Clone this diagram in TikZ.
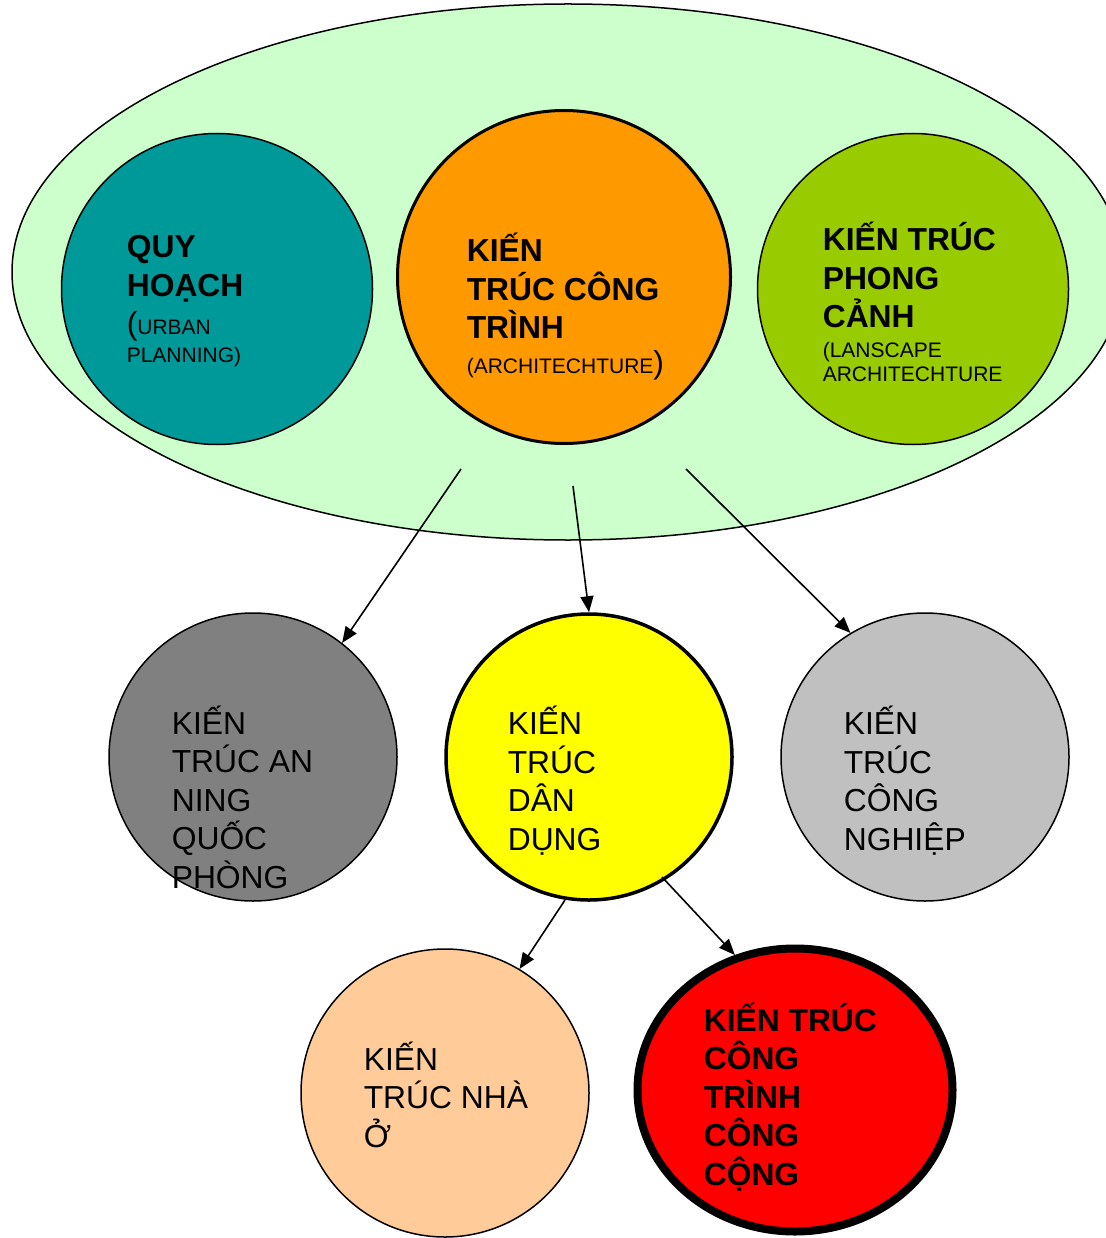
\documentclass[tikz,border=0pt]{standalone}
\usepackage{fontspec}
\setmainfont{Liberation Sans}
\usetikzlibrary{arrows.meta,positioning,shapes.geometric}
\definecolor{mint}{HTML}{CCFFCC}
\definecolor{tealc}{HTML}{009999}
\definecolor{orangec}{HTML}{FF9900}
\definecolor{leafc}{HTML}{99CC00}
\definecolor{darkc}{HTML}{808080}
\definecolor{sunc}{HTML}{FFFF00}
\definecolor{silverc}{HTML}{C0C0C0}
\definecolor{peachc}{HTML}{FFCC99}
\definecolor{redc}{HTML}{FF0000}
\newcommand\subtxt{\mdseries\fontsize{21}{24}\selectfont}

\begin{document}
\begin{tikzpicture}[x=1pt,y=-1pt,->,>={Triangle[length=16pt,width=13pt]},
                    line width=1.6pt]
  \tikzstyle{ring}=[circle,draw=black,inner sep=0pt,line width=1.5pt]
  \tikzstyle{txt}=[anchor=base west,align=left,inner sep=0pt,
                   font=\fontsize{31.8}{38.5}\selectfont]
  \tikzstyle{boldtxt}=[txt,font=\fontsize{31.8}{38.5}\selectfont\bfseries]
  \useasboundingbox (0,0) rectangle (1105,1238);

  \node[ellipse,draw=black,fill=mint,line width=1.5pt,minimum width=1112pt,
        minimum height=536pt] (field) at (568,272) {};

  \node[ring,fill=tealc,minimum size=311pt]                    (plan) at (217,289) {};
  \node[ring,fill=orangec,line width=3pt,minimum size=333pt]   (arch) at (564,277) {};
  \node[ring,fill=leafc,minimum size=311pt]                    (land) at (913,289) {};

  \node[ring,fill=darkc,minimum size=288pt]                    (defence) at (253,757) {};
  \node[ring,fill=sunc,line width=3.5pt,minimum size=286pt]    (civil) [right of=defence,node distance=336pt] {};
  \node[ring,fill=silverc,minimum size=288pt]                  (industry) [right of=civil,node distance=336pt] {};

  \node[ring,fill=peachc,minimum size=288pt]                   (housing) at (445,1093) {};
  \node[ellipse,draw=black,fill=redc,line width=8pt,inner sep=0pt,
        minimum width=315pt,minimum height=283pt]              (public) at (795,1090) {};

  % text blocks sit on the baseline of their last line
  \node[boldtxt] (plan text) at (126,362)
    {QUY\\HOẠCH\\{\mdseries(}{\subtxt URBAN}\\[-11pt]{\subtxt PLANNING)}};
  \node[boldtxt] (arch text) at (466,373)
    {KIẾN\\TRÚC CÔNG\\TRÌNH\\[-4pt]{\subtxt(ARCHITECHTURE}{\mdseries)}};
  \node[boldtxt] (land text) at (822,381)
    {KIẾN TRÚC\\PHONG\\CẢNH\\[-9pt]{\subtxt(LANSCAPE}\\[-14.5pt]{\subtxt ARCHITECHTURE}};

  \node[txt] (defence text)  at (171,888)  {KIẾN\\TRÚC AN\\NING\\QUỐC\\PHÒNG};
  \node[txt] (civil text)    at (507,850)  {KIẾN\\TRÚC\\DÂN\\DỤNG};
  \node[txt] (industry text) at (843,850)  {KIẾN\\TRÚC\\CÔNG\\NGHIỆP};
  \node[txt] (housing text)  at (363,1147) {KIẾN\\TRÚC NHÀ\\Ở};
  \node[boldtxt] (public text) at (703,1185)
    {KIẾN TRÚC\\CÔNG\\TRÌNH\\CÔNG\\CỘNG};

  % free ends of the arrows
  \coordinate (a1) at (461,469);
  \coordinate (a2) at (573,486);
  \coordinate (a3) at (686,469);
  \coordinate (c1) at (565,900);
  \coordinate (c2) at (662,877);

  \path (a1) edge (defence.52)
        (a2) edge (civil.north)
        (a3) edge (industry.121)
        (c1) edge (housing.59)
        (c2) edge (public.114);

\end{tikzpicture}
\end{document}
